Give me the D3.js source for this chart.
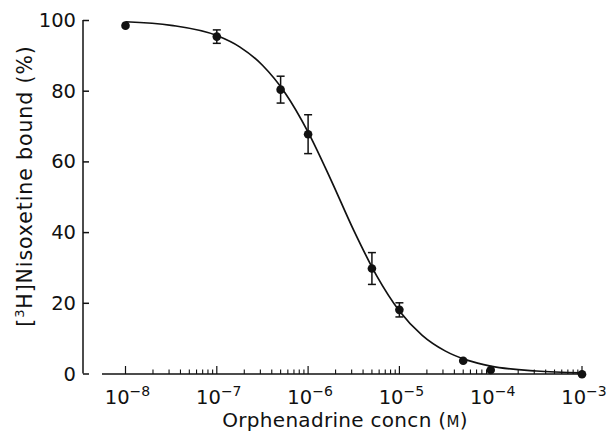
<!DOCTYPE html>
<html><head><meta charset="utf-8">
<script src="https://cdn.jsdelivr.net/npm/d3@7"></script>
<style>body{margin:0;background:#fff}svg{display:block}text{font-family:"DejaVu Sans",sans-serif;fill:#111}</style>
</head><body><svg id="c" width="612" height="432"></svg>
<script>
const conc = [1e-8, 1e-7, 5e-7, 1e-6, 5e-6, 1e-5, 5e-5, 1e-4, 1e-3];
const bound = [98.4, 95.3, 80.3, 67.7, 29.7, 18.0, 3.6, 1.0, -0.2];
const sem = [0, 1.9, 3.8, 5.5, 4.5, 2.0, 0, 0, 0];
const curveLogX = [-8, -7.5, -7, -6.75, -6.5, -6.25, -6, -5.75, -5.5, -5.25, -5, -4.75, -4.5, -4.25, -4, -3.5, -3];
const curveY = [99.5, 98.5, 95.6, 92.4, 87.2, 79.3, 68.3, 54.8, 40.5, 27.7, 17.7, 10.8, 6.4, 3.7, 2.1, 0.7, 0.2];
const yTicks = [0, 20, 40, 60, 80, 100];
const xExps = [-8, -7, -6, -5, -4, -3];

const svg = d3.select("#c");
const x = d3.scaleLog().domain([1e-8, 1e-3]).range([125.5, 582]);
const y = d3.scaleLinear().domain([0, 100]).range([373.5, 20]);

// y axis
const gy = svg.append("g").attr("transform", "translate(83,0)");
gy.call(d3.axisRight(y).tickValues(yTicks).tickSize(6).tickFormat(""));
gy.select(".domain").attr("d", `M0,${y(100)}V${y(0)}`).attr("stroke", "#111").attr("stroke-width", 1.5);
gy.selectAll(".tick line").attr("stroke", "#111").attr("stroke-width", 1.5);
svg.append("g").selectAll("text").data(yTicks).join("text")
  .attr("x", 76).attr("y", d => y(d)).attr("dy", "0.36em")
  .attr("text-anchor", "end").attr("font-size", 19.5).text(d => d);

// x axis
const minor = [];
for (let e = -8; e < -3; e++) for (let m = 2; m <= 9; m++) minor.push(m * Math.pow(10, e));
const gx = svg.append("g").attr("transform", "translate(0,374)");
gx.append("line").attr("x1", 102).attr("x2", 584).attr("stroke", "#111").attr("stroke-width", 1.4);
gx.selectAll(".maj").data(xExps).join("line").attr("class", "maj")
  .attr("x1", d => x(Math.pow(10, d))).attr("x2", d => x(Math.pow(10, d)))
  .attr("y1", 0).attr("y2", -8).attr("stroke", "#111").attr("stroke-width", 1.2);
gx.selectAll(".min").data(minor).join("line").attr("class", "min")
  .attr("x1", d => x(d)).attr("x2", d => x(d))
  .attr("y1", 0).attr("y2", -4.5).attr("stroke", "#111").attr("stroke-width", 1.1);
const xl = svg.append("g").selectAll("text").data(xExps).join("text")
  .attr("x", d => x(Math.pow(10, d)) + 2).attr("y", 404).attr("text-anchor", "middle").attr("font-size", 19.5);
xl.append("tspan").text("10");
xl.append("tspan").attr("dy", -8).attr("font-size", 14).text(d => "\u2212" + Math.abs(d));

// axis titles
const xt = svg.append("text").attr("x", 345).attr("y", 427).attr("text-anchor", "middle")
  .attr("font-size", 20).attr("letter-spacing", 0.3);
xt.append("tspan").text("Orphenadrine concn (");
xt.append("tspan").attr("font-size", 15).text("M");
xt.append("tspan").text(")");
const yt = svg.append("text").attr("transform", "translate(32,186) rotate(-90)").attr("text-anchor", "middle")
  .attr("font-size", 20.5).attr("letter-spacing", 0.9);
yt.append("tspan").text("[");
yt.append("tspan").attr("dy", -8).attr("font-size", 13).text("3");
yt.append("tspan").attr("dy", 8).text("H]Nisoxetine bound (%)");

// curve
const pts = curveLogX.map((lx, i) => [x(Math.pow(10, lx)), y(curveY[i])]);
svg.append("path").attr("d", d3.line().curve(d3.curveMonotoneX)(pts))
  .attr("fill", "none").attr("stroke", "#111").attr("stroke-width", 1.7);

// error bars
const data = conc.map((c, i) => ({c, v: bound[i], e: sem[i]}));
const eb = svg.append("g").attr("stroke", "#111").attr("stroke-width", 1.5);
data.filter(d => d.e > 0).forEach(d => {
  const cx = x(d.c);
  eb.append("line").attr("x1", cx).attr("x2", cx).attr("y1", y(d.v + d.e)).attr("y2", y(d.v - d.e));
  eb.append("line").attr("x1", cx - 4).attr("x2", cx + 4).attr("y1", y(d.v + d.e)).attr("y2", y(d.v + d.e));
  eb.append("line").attr("x1", cx - 4).attr("x2", cx + 4).attr("y1", y(d.v - d.e)).attr("y2", y(d.v - d.e));
});
svg.append("g").selectAll("circle").data(data).join("circle")
  .attr("cx", d => x(d.c)).attr("cy", d => y(d.v)).attr("r", 4.3).attr("fill", "#111");
</script></body></html>
